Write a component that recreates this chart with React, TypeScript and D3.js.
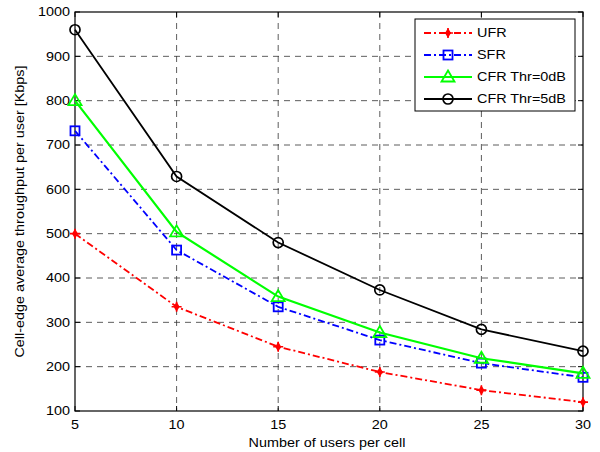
import React from "react";
import * as d3 from "d3";

const users = [5, 10, 15, 20, 25, 30];
const ufr = [500, 335, 245, 188, 147, 120];
const sfr = [732, 463, 335, 260, 208, 176];
const cfr0 = [800, 504, 358, 277, 219, 185];
const cfr5 = [960, 629, 480, 373, 284, 235];
const xTicks = [5, 10, 15, 20, 25, 30];
const yTicks = [100, 200, 300, 400, 500, 600, 700, 800, 900, 1000];

const W = 600, H = 452;
const L = 75, R = 583, T = 12, B = 411;
const font = "Liberation Sans, Arial, Helvetica, sans-serif";
const FS = 12;
const SX = 1.2;

type S = { name: string; values: number[]; color: string; dash: string; marker: string; width: number };
const series: S[] = [
  { name: "UFR", values: ufr, color: "#ff0000", dash: "7,3,2,3", marker: "star", width: 1.8 },
  { name: "SFR", values: sfr, color: "#0000ff", dash: "7,3,2,3", marker: "square", width: 1.8 },
  { name: "CFR Thr=0dB", values: cfr0, color: "#00ff00", dash: "", marker: "triangle", width: 2.2 },
  { name: "CFR Thr=5dB", values: cfr5, color: "#000000", dash: "", marker: "circle", width: 1.8 },
];

function Txt({ x, y, anchor, rot, children }: { x: number; y: number; anchor?: string; rot?: boolean; children: any }) {
  return (
    <text
      transform={`translate(${x},${y})${rot ? " rotate(-90)" : ""} scale(${SX},1)`}
      textAnchor={anchor || "start"}
      fontSize={FS}
      fill="#000"
    >
      {children}
    </text>
  );
}

function Marker({ type, x, y, color }: { type: string; x: number; y: number; color: string }) {
  if (type === "star") {
    return (
      <g>
        <path d={`M${x},${y - 5}L${x + 3},${y}L${x},${y + 5}L${x - 3},${y}Z`} fill={color} />
        <path d={`M${x - 5},${y}L${x + 5},${y}M${x},${y - 5}L${x},${y + 5}`} stroke={color} strokeWidth={1.6} />
      </g>
    );
  }
  if (type === "square") {
    return <rect x={x - 4.5} y={y - 4.5} width={9} height={9} fill="none" stroke={color} strokeWidth={1.8} />;
  }
  if (type === "triangle") {
    return <path d={`M${x},${y - 6.5}L${x + 6.5},${y + 4.5}L${x - 6.5},${y + 4.5}Z`} fill="none" stroke={color} strokeWidth={1.8} />;
  }
  return <circle cx={x} cy={y} r={5} fill="none" stroke={color} strokeWidth={1.7} />;
}

export default function App() {
  const x = d3.scaleLinear().domain([5, 30]).range([L, R]);
  const y = d3.scaleLinear().domain([100, 1000]).range([B, T]);
  const line = d3.line<number>().x((_, i) => x(users[i])).y((v) => y(v));

  const legX = 415, legY = 19, legW = 160, legH = 92;
  return (
    <svg width={W} height={H} style={{ position: "absolute", left: 0, top: 0, background: "#fff" }} fontFamily={font}>
      <rect x={0} y={0} width={W} height={H} fill="#fff" />
      {xTicks.slice(1, -1).map((t) => (
        <line key={"gx" + t} x1={x(t)} x2={x(t)} y1={T} y2={B} stroke="#333" strokeWidth={0.8} strokeDasharray="6,5" />
      ))}
      {yTicks.slice(1, -1).map((t) => (
        <line key={"gy" + t} x1={L} x2={R} y1={y(t)} y2={y(t)} stroke="#333" strokeWidth={0.8} strokeDasharray="6,5" />
      ))}
      {xTicks.map((t) => (
        <g key={"tx" + t}>
          <line x1={x(t)} x2={x(t)} y1={B} y2={B - 5} stroke="#000" />
          <line x1={x(t)} x2={x(t)} y1={T} y2={T + 5} stroke="#000" />
          <Txt x={x(t)} y={B + 17.5} anchor="middle">{t}</Txt>
        </g>
      ))}
      {yTicks.map((t) => (
        <g key={"ty" + t}>
          <line x1={L} x2={L + 5} y1={y(t)} y2={y(t)} stroke="#000" />
          <line x1={R} x2={R - 5} y1={y(t)} y2={y(t)} stroke="#000" />
          <Txt x={L - 5} y={y(t) + 4.3} anchor="end">{t}</Txt>
        </g>
      ))}
      <rect x={L} y={T} width={R - L} height={B - T} fill="none" stroke="#000" strokeWidth={1.2} />
      {series.map((s) => (
        <g key={s.name}>
          <path d={line(s.values) || ""} fill="none" stroke={s.color} strokeWidth={s.width} strokeDasharray={s.dash || undefined} />
          {s.values.map((v, i) => (
            <Marker key={i} type={s.marker} x={x(users[i])} y={y(v)} color={s.color} />
          ))}
        </g>
      ))}
      <rect x={legX} y={legY} width={legW} height={legH} fill="#fff" stroke="#000" strokeWidth={1} />
      {series.map((s, i) => {
        const ly = legY + 14 + i * 22;
        return (
          <g key={"lg" + s.name}>
            <line x1={424} x2={472} y1={ly} y2={ly} stroke={s.color} strokeWidth={s.width} strokeDasharray={s.dash || undefined} />
            <Marker type={s.marker} x={448} y={ly} color={s.color} />
            <Txt x={477} y={ly + 4.3}>{s.name}</Txt>
          </g>
        );
      })}
      <Txt x={327} y={446.5} anchor="middle">Number of users per cell</Txt>
      <Txt x={24} y={211.5} anchor="middle" rot>Cell-edge average throughput per user [Kbps]</Txt>
    </svg>
  );
}
